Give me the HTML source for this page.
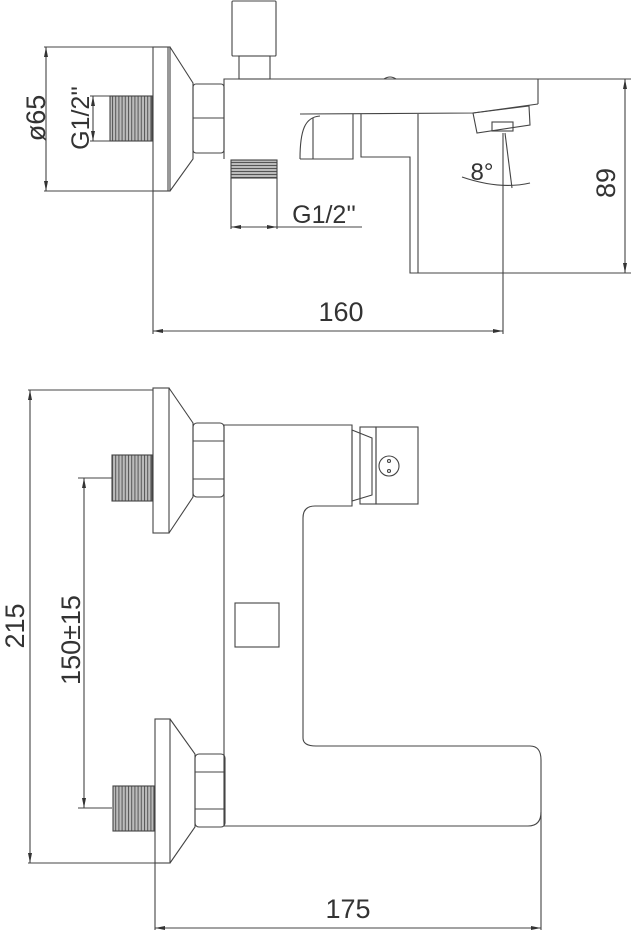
<!DOCTYPE html>
<html><head><meta charset="utf-8"><style>
html,body{margin:0;padding:0;background:#fff;}
svg{display:block}
text{font-family:"Liberation Sans",sans-serif;fill:#333;}
</style></head><body>
<svg width="631" height="931" viewBox="0 0 631 931" xmlns="http://www.w3.org/2000/svg">
<defs>
<pattern id="thr" width="3.2" height="4" patternUnits="userSpaceOnUse"><rect width="3.2" height="4" fill="#bbb"/><line x1="0.5" y1="0" x2="0.5" y2="4" stroke="#555" stroke-width="1"/></pattern>
<pattern id="thrH" width="4" height="3" patternUnits="userSpaceOnUse"><rect width="4" height="3" fill="#bbb"/><line x1="0" y1="0.5" x2="4" y2="0.5" stroke="#555" stroke-width="1"/></pattern>
<marker id="ar" markerWidth="10" markerHeight="6" refX="10" refY="3" orient="auto-start-reverse" markerUnits="userSpaceOnUse"><path d="M0,1 L10,3 L0,5" fill="#333"/></marker>
</defs>
<g fill="none" stroke="#444" stroke-width="1.1">
<!-- ===== TOP VIEW ===== -->
<line x1="44" y1="47" x2="153" y2="47"/><line x1="44" y1="191" x2="153" y2="191"/>
<line x1="46" y1="47" x2="46" y2="191" marker-start="url(#ar)" marker-end="url(#ar)"/>
<rect x="153" y="47" width="17" height="144"/>
<line x1="168" y1="47" x2="168" y2="191"/>
<polyline points="170,47 193,83 193,159 170,191"/>
<rect x="110" y="96" width="42" height="45" fill="url(#thr)"/>
<line x1="90" y1="96" x2="110" y2="96"/><line x1="90" y1="141" x2="110" y2="141"/>
<line x1="93" y1="96" x2="93" y2="141" marker-start="url(#ar)" marker-end="url(#ar)"/>
<rect x="193" y="84" width="31" height="69" rx="3"/>
<line x1="193" y1="118" x2="224" y2="118"/>
<rect x="232" y="1" width="44" height="55" rx="1"/>
<rect x="239" y="56" width="31" height="23"/>
<polyline points="224,159 224,79 538,79 538,104"/>
<path d="M384,79 Q390,75 396,79"/>
<polyline points="538,104 473,113 300,114"/>
<polygon points="473,113 529,106 530,125 477,133"/>
<rect x="492" y="122" width="21" height="9"/>
<rect x="231" y="160" width="46" height="18" fill="url(#thrH)"/>
<line x1="231" y1="178" x2="231" y2="229"/><line x1="277" y1="178" x2="277" y2="229"/>
<line x1="231" y1="227" x2="277" y2="227" marker-start="url(#ar)" marker-end="url(#ar)"/>
<line x1="277" y1="227" x2="362" y2="227"/>
<path d="M300,159 C300,130 305,117 320,116"/>
<line x1="313" y1="118" x2="313" y2="159"/>
<polyline points="300,159 353,159 353,114"/>
<polyline points="361,114 361,157 410,157 410,273 631,273"/>
<line x1="418" y1="114" x2="418" y2="273"/>
<line x1="538" y1="79" x2="631" y2="79"/>
<line x1="625" y1="79" x2="625" y2="273" marker-start="url(#ar)" marker-end="url(#ar)"/>
<line x1="503" y1="133" x2="503" y2="334"/>
<line x1="505" y1="133" x2="512" y2="188"/>
<path d="M462,177 Q500,190 530,183"/>
<line x1="153" y1="191" x2="153" y2="334"/>
<line x1="153" y1="331" x2="503" y2="331" marker-start="url(#ar)" marker-end="url(#ar)"/>
<!-- ===== BOTTOM VIEW ===== -->
<line x1="28" y1="390" x2="153" y2="390"/>
<line x1="28" y1="863" x2="170" y2="863"/>
<line x1="30" y1="390" x2="30" y2="863" marker-start="url(#ar)" marker-end="url(#ar)"/>
<rect x="153" y="388" width="16" height="145"/>
<polyline points="169,388 193,423 193,497 169,533"/>
<rect x="193" y="423" width="31" height="74" rx="4"/>
<line x1="193" y1="441" x2="224" y2="441"/><line x1="193" y1="479" x2="224" y2="479"/>
<rect x="112" y="455" width="40" height="46" fill="url(#thr)"/>
<line x1="78" y1="478" x2="112" y2="478"/>
<line x1="78" y1="808" x2="112" y2="808"/>
<line x1="84" y1="478" x2="84" y2="808" marker-start="url(#ar)" marker-end="url(#ar)"/>
<polyline points="224,826 224,425 352,425 352,506 315,506"/>
<path d="M315,506 Q303,506 303,518 L303,738 Q303,746 316,746 L530,746 Q541,746 541,760 L541,812 Q541,826 528,826 L224,826"/>
<polygon points="352,430 372,438 372,495 352,501"/>
<rect x="360" y="427" width="16" height="77"/>
<rect x="376" y="427" width="42" height="77"/>
<circle cx="389" cy="466" r="10"/>
<circle cx="389" cy="461" r="1.5"/><circle cx="389" cy="471" r="1.5"/>
<rect x="235" y="603" width="44" height="44"/>
<rect x="155" y="719" width="15" height="144"/>
<polyline points="170,719 195,754 195,827 170,863"/>
<rect x="195" y="754" width="30" height="73" rx="4"/>
<line x1="195" y1="772" x2="225" y2="772"/><line x1="195" y1="809" x2="225" y2="809"/>
<rect x="113" y="786" width="41" height="45" fill="url(#thr)"/>
<line x1="155" y1="863" x2="155" y2="930"/>
<line x1="541" y1="812" x2="541" y2="930"/>
<line x1="155" y1="928" x2="541" y2="928" marker-start="url(#ar)" marker-end="url(#ar)"/>
</g>
<g font-size="27">
<text transform="translate(45,118) rotate(-90)" text-anchor="middle">ø65</text>
<text transform="translate(89,118) rotate(-90)" text-anchor="middle" font-size="25">G1/2''</text>
<text x="324" y="223" text-anchor="middle" font-size="25">G1/2''</text>
<text x="482" y="180" text-anchor="middle" font-size="24">8°</text>
<text transform="translate(615,183) rotate(-90)" text-anchor="middle">89</text>
<text x="341" y="321" text-anchor="middle">160</text>
<text transform="translate(24,626) rotate(-90)" text-anchor="middle">215</text>
<text transform="translate(80,640) rotate(-90)" text-anchor="middle">150±15</text>
<text x="348" y="918" text-anchor="middle">175</text>
</g>
</svg>
</body></html>
